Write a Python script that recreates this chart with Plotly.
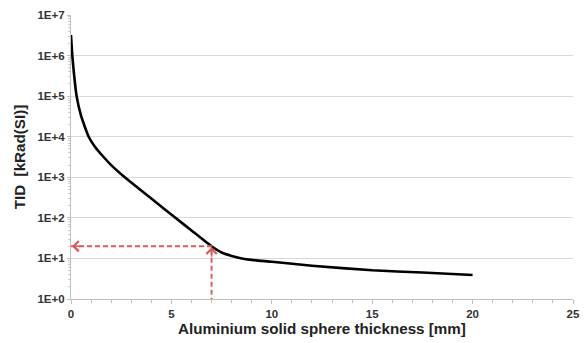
import numpy as np
import plotly.graph_objects as go

# Total ionising dose behind an aluminium solid sphere
thickness_mm = [0, 0.03, 0.065, 0.15, 0.28, 0.5, 0.88, 1.2, 1.59, 2.0, 2.68,
                3.0, 4.0, 5.2, 6.0, 7.0, 7.5, 8.0, 8.5, 9.0, 10, 12, 15, 17.5, 20]
tid_krad = [3.2e6, 1.8e6, 1.0e6, 3.5e5, 1.0e5, 3.3e4, 1.0e4, 5.6e3, 3.3e3, 2.0e3, 1.0e3,
            7.4e2, 3.0e2, 1.0e2, 49, 20, 14, 11.5, 10, 9.2, 8.3, 6.6, 5.1, 4.5, 3.9]

# Design point
design_thk = 7
design_tid = 20

y_tickvals = [1e0, 1e1, 1e2, 1e3, 1e4, 1e5, 1e6, 1e7]
y_ticktext = ["1E+0", "1E+1", "1E+2", "1E+3", "1E+4", "1E+5", "1E+6", "1E+7"]
x_tickvals = [0, 5, 10, 15, 20, 25]

red = "#d95a5a"
font_family = "Liberation Sans, Arial, sans-serif"

fig = go.Figure()

fig.add_trace(go.Scatter(
    x=thickness_mm, y=tid_krad, mode="lines",
    line=dict(color="black", width=2.6, shape="spline", smoothing=0.5),
    hoverinfo="skip", showlegend=False,
))

# Dashed guide: up from the x axis to the curve, then left to the y axis
fig.add_trace(go.Scatter(
    x=[0, design_thk, design_thk], y=[design_tid, design_tid, 1],
    mode="lines", line=dict(color=red, width=1.9, dash="5px,3px"),
    hoverinfo="skip", showlegend=False,
))

# Open arrow heads at both ends of the guide
fig.add_annotation(x=0, y=np.log10(design_tid), ax=12, ay=0,
                   xref="x", yref="y", showarrow=True, arrowhead=4,
                   arrowsize=1.25, arrowwidth=1.6, arrowcolor=red, standoff=1, text="")
fig.add_annotation(x=design_thk, y=np.log10(design_tid), ax=0, ay=12,
                   xref="x", yref="y", showarrow=True, arrowhead=4,
                   arrowsize=1.25, arrowwidth=1.6, arrowcolor=red, standoff=1, text="")

tick_font = dict(family=font_family, size=11.5, color="#333333", weight="bold")
title_font = dict(family=font_family, size=15.2, color="#222222", weight="bold")

fig.update_layout(
    width=585, height=343,
    margin=dict(l=71, r=5, t=15, b=44),
    paper_bgcolor="white", plot_bgcolor="white",
    xaxis=dict(
        range=[0, 25], tickvals=x_tickvals, tickfont=tick_font,
        ticklabeloverflow="allow",
        showgrid=False, zeroline=False,
        showline=True, linecolor="#bfbfbf", linewidth=1.2,
        ticks="outside", ticklen=4, tickcolor="#bfbfbf",
        minor=dict(dtick=1, ticks="outside", ticklen=3, tickcolor="#bfbfbf"),
        title=dict(text="Aluminium solid sphere thickness [mm]", font=title_font, standoff=3),
    ),
    yaxis=dict(
        type="log", range=[0, 7], tickvals=y_tickvals, ticktext=y_ticktext,
        tickfont=tick_font,
        showgrid=True, gridcolor="#d9d9d9", gridwidth=1.3, zeroline=False,
        showline=True, linecolor="#bfbfbf", linewidth=1.2,
        ticks="outside", ticklen=3, tickcolor="#bfbfbf",
        minor=dict(dtick="D1", ticks="outside", ticklen=2, tickcolor="#cccccc", showgrid=False),
        title=dict(text="TID\u00a0 [kRad(SI)]", font=title_font, standoff=8),
    ),
)

fig.write_html("out.html")
